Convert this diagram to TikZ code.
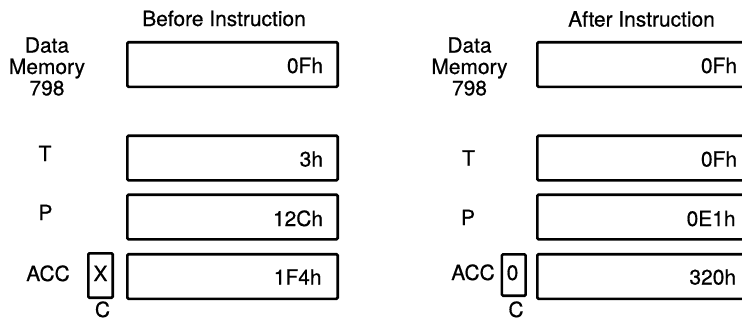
\documentclass[tikz,border=0pt]{standalone}
\usepackage{fontspec}
\setmainfont[FakeBold=0.6]{TeX Gyre Heros}
\begin{document}
\begin{tikzpicture}[x=1bp,y=-1bp,
  every node/.style={inner sep=0pt,outer sep=0pt,font=\fontsize{21}{21.5}\selectfont},
  regbox/.style={draw,line width=2.6bp,rounded corners=1.2bp,minimum width=210.4bp,minimum height=44.6bp},
  cbox/.style={draw,line width=2.6bp,rounded corners=1.2bp,minimum width=24.4bp,minimum height=44.4bp},
  val/.style={anchor=base east},
  lbl/.style={anchor=base},
  memlbl/.style={align=center,anchor=center}]
\useasboundingbox (0,0) rectangle (742,321);
% ---------- Before ----------
\node[lbl] (t1) at (224,26) {Before Instruction};
\node[memlbl] (m1) at (47,66.5) {Data\\Memory\\798};
\node[regbox] (a1) at (232.5,64.5) {};
\node[regbox] (a2) at (232.5,158) {};
\node[regbox] (a3) at (232.5,217) {};
\node[regbox] (a4) at (232.5,276.5) {};
\node[val] (av1) at (323,73) {0Fh};
\node[val] (av2) at (323,166.5) {3h};
\node[val] (av3) at (323,226) {12Ch};
\node[val] (av4) at (321.5,284.5) {1F4h};
\node[lbl] (aT) at (45,161) {T};
\node[lbl] (aP) at (45.5,220) {P};
\node[lbl] (aA) at (48,281) {ACC};
\node[cbox] (ac) at (100.5,275.5) {};
\node[lbl] (ax) at (100.5,281) {X};
\node[lbl] (aC) at (102.5,317) {C};
% ---------- After ----------
\node[lbl] (t2) at (641.5,26.5) {After Instruction};
\node[memlbl] (m2) at (469.5,66.5) {Data\\Memory\\798};
\node[regbox] (b1) at (642.5,64.5) {};
\node[regbox] (b2) at (642.5,158) {};
\node[regbox] (b3) at (642.5,217) {};
\node[regbox] (b4) at (642.5,276.5) {};
\node[val] (bv1) at (737,73) {0Fh};
\node[val] (bv2) at (737,166.5) {0Fh};
\node[val] (bv3) at (735.5,226) {0E1h};
\node[val] (bv4) at (736,284.5) {320h};
\node[lbl] (bT) at (468.5,165.5) {T};
\node[lbl] (bP) at (468,225) {P};
\node[lbl] (bA) at (473,280) {ACC};
\node[cbox,minimum width=23.8bp,minimum height=41.4bp] (bc) at (513.75,275) {};
\node[lbl] (bx) at (512.5,280) {0};
\node[lbl] (bC) at (516,317) {C};
\end{tikzpicture}
\end{document}
